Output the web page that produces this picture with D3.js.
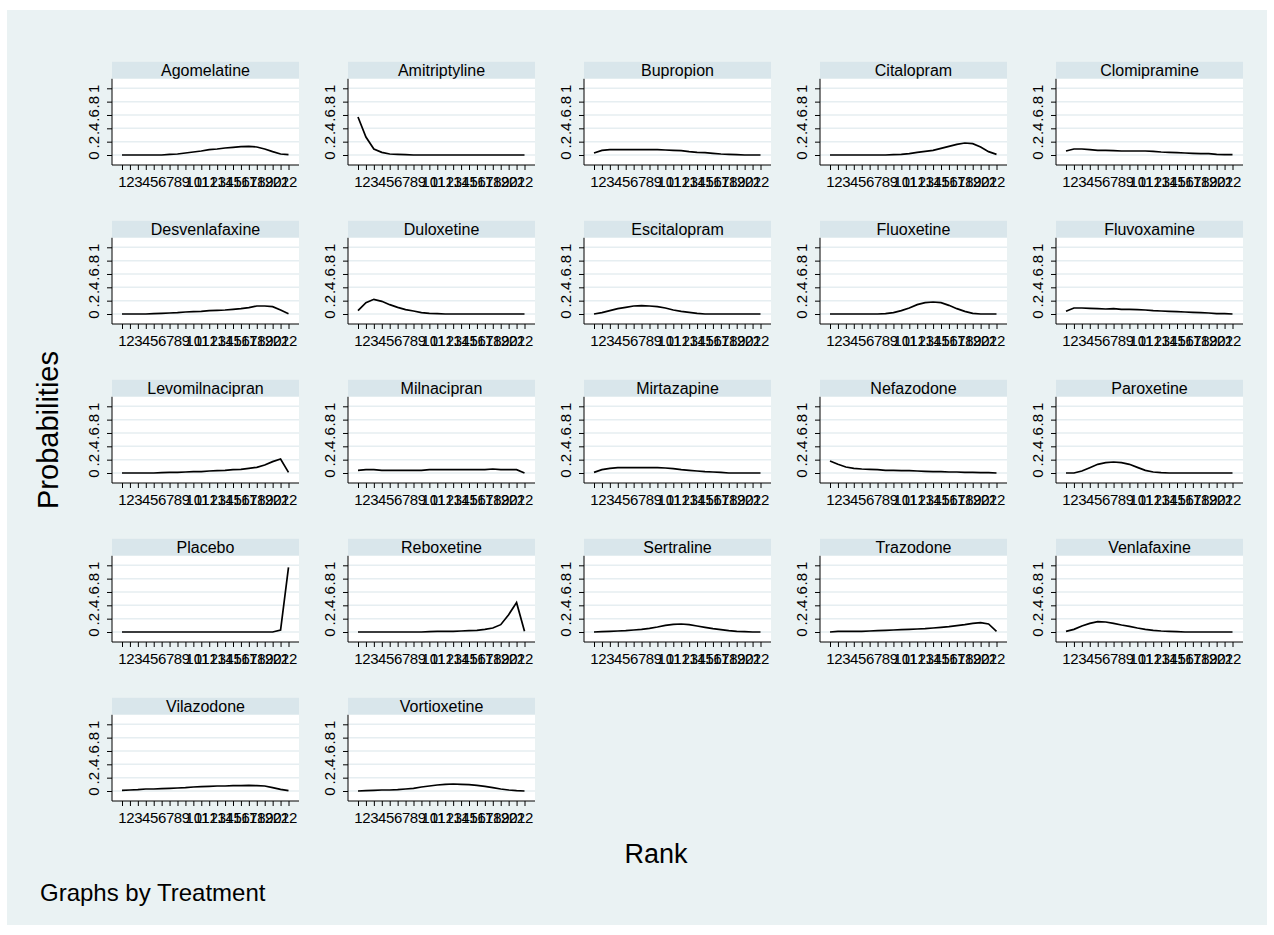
<!DOCTYPE html>
<html>
<head>
<meta charset="utf-8">
<script src="https://cdn.jsdelivr.net/npm/d3@7"></script>
<style>
    body { margin: 0; background: #ffffff; }
    svg { display: block; font-family: "Liberation Sans", Arial, sans-serif; }
</style>
</head>
<body>
<div id="chart"></div>
<script>

// ranks 1..22
const ranks = d3.range(1, 23);

const yTicks = [0, 0.2, 0.4, 0.6, 0.8, 1];
const yTickLabels = ["0", ".2", ".4", ".6", ".8", "1"];

// probability of each rank
const agomelatine     = [0, 0, 0, 0, 0, 0, 0.01, 0.015, 0.03, 0.045, 0.06, 0.08, 0.09, 0.105, 0.115, 0.125, 0.13, 0.12, 0.09, 0.05, 0.015, 0.005];
const amitriptyline   = [0.57, 0.27, 0.09, 0.04, 0.015, 0.01, 0.005, 0, 0, 0, 0, 0, 0, 0, 0, 0, 0, 0, 0, 0, 0, 0];
const bupropion       = [0.03, 0.07, 0.08, 0.08, 0.08, 0.08, 0.08, 0.08, 0.08, 0.075, 0.07, 0.065, 0.05, 0.04, 0.035, 0.025, 0.015, 0.01, 0.005, 0, 0, 0];
const citalopram      = [0, 0, 0, 0, 0, 0, 0, 0, 0.005, 0.01, 0.02, 0.04, 0.055, 0.07, 0.1, 0.13, 0.16, 0.18, 0.17, 0.12, 0.05, 0.01];
const clomipramine    = [0.06, 0.09, 0.09, 0.08, 0.07, 0.07, 0.065, 0.06, 0.06, 0.06, 0.06, 0.055, 0.045, 0.04, 0.035, 0.03, 0.025, 0.02, 0.02, 0.01, 0.005, 0.005];
const desvenlafaxine  = [0, 0, 0, 0, 0.005, 0.01, 0.015, 0.02, 0.03, 0.035, 0.04, 0.05, 0.055, 0.06, 0.07, 0.08, 0.095, 0.12, 0.12, 0.11, 0.06, 0.005];
const duloxetine      = [0.05, 0.17, 0.22, 0.19, 0.14, 0.1, 0.065, 0.045, 0.02, 0.01, 0.005, 0, 0, 0, 0, 0, 0, 0, 0, 0, 0, 0];
const escitalopram    = [0, 0.02, 0.05, 0.08, 0.1, 0.12, 0.125, 0.12, 0.11, 0.09, 0.06, 0.04, 0.025, 0.01, 0, 0, 0, 0, 0, 0, 0, 0];
const fluoxetine      = [0, 0, 0, 0, 0, 0, 0, 0.005, 0.02, 0.05, 0.09, 0.14, 0.17, 0.18, 0.17, 0.13, 0.08, 0.04, 0.01, 0, 0, 0];
const fluvoxamine     = [0.04, 0.09, 0.09, 0.085, 0.08, 0.075, 0.08, 0.07, 0.07, 0.065, 0.06, 0.05, 0.045, 0.04, 0.035, 0.03, 0.025, 0.02, 0.015, 0.005, 0.005, 0];
const levomilnacipran = [0, 0, 0, 0, 0, 0.005, 0.01, 0.01, 0.015, 0.02, 0.02, 0.03, 0.035, 0.04, 0.05, 0.055, 0.07, 0.085, 0.12, 0.17, 0.21, 0.01];
const milnacipran     = [0.04, 0.05, 0.05, 0.04, 0.04, 0.04, 0.04, 0.04, 0.04, 0.05, 0.05, 0.05, 0.05, 0.05, 0.05, 0.05, 0.05, 0.06, 0.05, 0.05, 0.05, 0];
const mirtazapine     = [0.01, 0.05, 0.07, 0.08, 0.08, 0.08, 0.08, 0.08, 0.08, 0.075, 0.065, 0.05, 0.04, 0.03, 0.02, 0.015, 0.01, 0, 0, 0, 0, 0];
const nefazodone      = [0.18, 0.13, 0.09, 0.07, 0.06, 0.055, 0.05, 0.04, 0.04, 0.035, 0.035, 0.03, 0.025, 0.02, 0.02, 0.015, 0.015, 0.01, 0.01, 0.005, 0.005, 0];
const paroxetine      = [0, 0, 0.03, 0.08, 0.13, 0.155, 0.165, 0.155, 0.13, 0.085, 0.04, 0.015, 0.005, 0, 0, 0, 0, 0, 0, 0, 0, 0];
const placebo         = [0, 0, 0, 0, 0, 0, 0, 0, 0, 0, 0, 0, 0, 0, 0, 0, 0, 0, 0, 0, 0.03, 0.97];
const reboxetine      = [0, 0, 0, 0, 0, 0, 0, 0, 0, 0.005, 0.01, 0.01, 0.01, 0.015, 0.02, 0.025, 0.04, 0.06, 0.11, 0.26, 0.44, 0.01];
const sertraline      = [0, 0.005, 0.01, 0.015, 0.02, 0.03, 0.04, 0.055, 0.075, 0.1, 0.115, 0.12, 0.11, 0.09, 0.07, 0.05, 0.035, 0.02, 0.01, 0.005, 0, 0];
const trazodone       = [0, 0.01, 0.01, 0.01, 0.01, 0.015, 0.02, 0.025, 0.03, 0.035, 0.04, 0.045, 0.05, 0.06, 0.07, 0.08, 0.095, 0.11, 0.13, 0.14, 0.12, 0.01];
const venlafaxine     = [0.01, 0.04, 0.09, 0.13, 0.155, 0.15, 0.13, 0.105, 0.085, 0.06, 0.04, 0.025, 0.015, 0.01, 0.005, 0, 0, 0, 0, 0, 0, 0];
const vilazodone      = [0.01, 0.015, 0.02, 0.03, 0.03, 0.035, 0.04, 0.045, 0.05, 0.06, 0.065, 0.07, 0.075, 0.075, 0.08, 0.08, 0.085, 0.08, 0.075, 0.05, 0.025, 0.005];
const vortioxetine    = [0, 0.005, 0.01, 0.015, 0.015, 0.02, 0.03, 0.04, 0.06, 0.075, 0.09, 0.1, 0.105, 0.1, 0.095, 0.085, 0.07, 0.05, 0.03, 0.015, 0.005, 0];

const treatmentNames = ["Agomelatine", "Amitriptyline", "Bupropion", "Citalopram", "Clomipramine",
    "Desvenlafaxine", "Duloxetine", "Escitalopram", "Fluoxetine", "Fluvoxamine",
    "Levomilnacipran", "Milnacipran", "Mirtazapine", "Nefazodone", "Paroxetine",
    "Placebo", "Reboxetine", "Sertraline", "Trazodone", "Venlafaxine",
    "Vilazodone", "Vortioxetine"];

const treatmentValues = [agomelatine, amitriptyline, bupropion, citalopram, clomipramine,
    desvenlafaxine, duloxetine, escitalopram, fluoxetine, fluvoxamine,
    levomilnacipran, milnacipran, mirtazapine, nefazodone, paroxetine,
    placebo, reboxetine, sertraline, trazodone, venlafaxine,
    vilazodone, vortioxetine];

const width = 1274, height = 935;

// panel geometry
const nCols = 5;
const colStep = 236, rowStep = 159;
const firstLeft = 112, firstZero = 155;
const panelW = 187;
const stripH = 17;

let svg = d3.select("#chart").append("svg")
    .attr("width", width)
    .attr("height", height);

svg.append("rect")
    .attr("x", 7).attr("y", 10)
    .attr("width", 1260).attr("height", 915)
    .attr("fill", "#eaf2f3");

treatmentNames.forEach((name, i) => {
    let col = i % nCols, row = Math.floor(i / nCols);
    let left = firstLeft + col * colStep;
    let zeroY = firstZero + row * rowStep;

    let x = d3.scaleLinear().domain([1, 22]).range([left + 10, left + 176.5]);
    let y = d3.scaleLinear().domain([0, 1]).range([zeroY, zeroY - 66.7]);

    let top = y(1) - 9.5;
    let bottom = y(0) + 10;

    let g = svg.append("g").attr("class", "panel");

    // strip
    g.append("rect")
        .attr("x", left).attr("y", top - stripH)
        .attr("width", panelW).attr("height", stripH)
        .attr("fill", "#d9e6eb");
    g.append("text")
        .attr("x", left + panelW / 2)
        .attr("y", top - stripH / 2)
        .attr("dy", "0.36em")
        .attr("text-anchor", "middle")
        .attr("font-size", 16)
        .attr("fill", "#000")
        .text(name);

    // plot region
    g.append("rect")
        .attr("x", left).attr("y", top)
        .attr("width", panelW).attr("height", bottom - top)
        .attr("fill", "#ffffff");

    // grid
    g.selectAll(".grid")
        .data(yTicks)
        .enter()
        .append("line")
        .attr("class", "grid")
        .attr("x1", left).attr("x2", left + panelW)
        .attr("y1", d => y(d)).attr("y2", d => y(d))
        .attr("stroke", "#e6eef1")
        .attr("stroke-width", 1.5);

    // axes
    let yAxis = d3.axisLeft(y)
        .tickValues(yTicks)
        .tickFormat((d, k) => yTickLabels[k])
        .tickSize(5)
        .tickPadding(2);
    let ya = g.append("g")
        .attr("transform", "translate(" + left + ",0)")
        .call(yAxis);
    ya.select(".domain").remove();
    ya.selectAll("text")
        .attr("x", null).attr("dy", null)
        .attr("text-anchor", "middle")
        .attr("transform", "translate(-13,0) rotate(-90)")
        .attr("font-size", 15)
        .attr("font-family", "Liberation Sans, Arial, sans-serif")
        .attr("fill", "#000");

    let xAxis = d3.axisBottom(x)
        .tickValues(ranks)
        .tickFormat(d3.format("d"))
        .tickSize(5)
        .tickPadding(6);
    let xa = g.append("g")
        .attr("transform", "translate(0," + bottom + ")")
        .call(xAxis);
    xa.select(".domain").remove();
    xa.selectAll("text")
        .attr("font-size", 15)
        .attr("font-family", "Liberation Sans, Arial, sans-serif")
        .attr("fill", "#000");
    g.selectAll(".tick line").attr("stroke", "#000");

    g.append("line")
        .attr("x1", left).attr("x2", left)
        .attr("y1", top).attr("y2", bottom)
        .attr("stroke", "#000");
    g.append("line")
        .attr("x1", left).attr("x2", left + panelW)
        .attr("y1", bottom).attr("y2", bottom)
        .attr("stroke", "#000");

    // probability line
    let line = d3.line()
        .x((d, k) => x(ranks[k]))
        .y(d => y(d));
    g.append("path")
        .datum(treatmentValues[i])
        .attr("d", line)
        .attr("fill", "none")
        .attr("stroke", "#000")
        .attr("stroke-width", 1.7);
});

// titles
svg.append("text")
    .attr("transform", "translate(58,430) rotate(-90)")
    .attr("text-anchor", "middle")
    .attr("font-size", 29)
    .text("Probabilities");

svg.append("text")
    .attr("x", 656).attr("y", 863)
    .attr("text-anchor", "middle")
    .attr("font-size", 27)
    .text("Rank");

svg.append("text")
    .attr("x", 40).attr("y", 901)
    .attr("font-size", 24)
    .text("Graphs by Treatment");

</script>
</body>
</html>
